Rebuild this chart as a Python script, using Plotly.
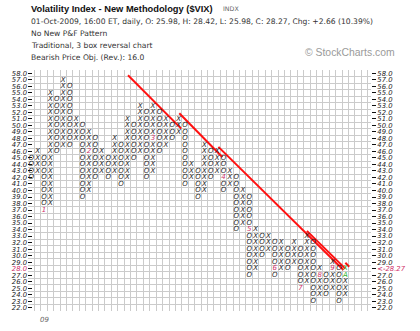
import plotly.graph_objects as go

# ---------------- data ----------------
col_types = ['O', 'X'] * 25
col_high = [45, 46, 45, 55, 54, 57, 56, 51, 50, 49, 48, 46, 45, 48, 47, 51, 50, 53, 52, 53,
            52, 51, 50, 51, 50, 44, 43, 47, 46, 46, 45, 43, 42, 40, 39, 34, 33, 33, 32, 32,
            31, 32, 31, 33, 32, 28, 27, 29, 28, 28]
col_low = [42, 43, 37, 38, 46, 47, 47, 48, 39, 40, 42, 43, 42, 43, 41, 42, 45, 46, 42, 43,
           46, 47, 48, 49, 41, 42, 39, 40, 42, 43, 40, 41, 34, 35, 27, 28, 30, 31, 27, 28,
           28, 29, 25, 26, 23, 24, 24, 25, 23, 24]
month_col = [2, 9, 19, 30, 34, 38, 42, 45, 47, 49]
month_row = [37, 46, 48, 42, 34, 28, 25, 27, 28, 27]
month_lbl = ['1', '2', '3', '4', '5', '6', '7', '8', '9', 'A']
current_col = 49
current_row = 28
price_rows = list(range(22, 59))
last_close = 28.27
year_col = 2
year_lbl = '09'

# bearish resistance lines (column, box) endpoints
line_c_start = [15.1, 23.1, 29.2, 43.0, 49.0]
line_r_start = [57.7, 51.85, 46.7, 33.8, 28.9]
line_c_end = [23.4, 29.8, 48.7, 49.0, 49.6]
line_r_end = [49.5, 45.15, 27.8, 28.0, 28.3]

# ---------------- build cells ----------------
months = {(c, r): (l) for c, r, l in zip(month_col, month_row, month_lbl)}
xs = {'X': ([], []), 'O': ([], [])}
for c, (t, hi, lo) in enumerate(zip(col_types, col_high, col_low)):
    for r in range(lo, hi + 1):
        if (c, r) in months or (c == current_col and r == current_row):
            continue
        xs[t][0].append(c)
        xs[t][1].append(r)

sym_font = dict(family='DejaVu Sans', size=7, color='#1a1a1a', style='italic')
fig = go.Figure()

for i in range(len(line_c_start)):
    fig.add_trace(go.Scatter(x=[line_c_start[i], line_c_end[i]], y=[line_r_start[i], line_r_end[i]],
                             mode='lines', line=dict(color='#ff1010', width=2),
                             hoverinfo='skip', showlegend=False, yaxis='y'))

for t in ['X', 'O']:
    fig.add_trace(go.Scatter(x=xs[t][0], y=xs[t][1], mode='text', text=[t] * len(xs[t][0]),
                             textfont=sym_font, textposition='middle center',
                             hoverinfo='skip', showlegend=False, cliponaxis=False, yaxis='y2'))

m_colors = ['#2bb52b' if l == 'A' else '#d0306a' for l in month_lbl]
fig.add_trace(go.Scatter(x=month_col, y=month_row, mode='text', text=month_lbl,
                         textfont=dict(family='DejaVu Sans', size=7, color=m_colors, style='italic'),
                         textposition='middle center', hoverinfo='skip', showlegend=False,
                         cliponaxis=False, yaxis='y2'))
fig.add_trace(go.Scatter(x=[current_col], y=[current_row], mode='text', text=['X'],
                         textfont=dict(family='DejaVu Sans', size=7, color='#2bb52b', style='italic'),
                         textposition='middle center', hoverinfo='skip', showlegend=False,
                         cliponaxis=False, yaxis='y3'))

left_txt = []
right_txt = []
for r in price_rows:
    if r == round(last_close):
        left_txt.append("<span style='color:#d0306a'>%.1f</span>" % r)
        right_txt.append("<span style='color:#d0306a'>&lt;-%.2f</span>" % last_close)
    else:
        left_txt.append('%.1f' % r)
        right_txt.append('%.1f' % r)

grid_col = '#cbcbcb'
yr = [21.5, 58.5]
lab_font = dict(family='DejaVu Sans', size=6.8, color='#222', style='italic')

W, H = 420, 331
L, R, T, B = 26, 49, 70, 20
pw, ph = W - L - R, H - T - B


def px(x):
    return (x - L) / pw


def py(y):
    return (H - B - y) / ph


fig.update_layout(
    width=W, height=H, margin=dict(l=L, r=R, t=T, b=B),
    paper_bgcolor='white', plot_bgcolor='white', showlegend=False,
    xaxis=dict(range=[-0.5, 53.0], tickmode='linear', tick0=0.5, dtick=1, showgrid=True,
               gridcolor=grid_col, gridwidth=1, showticklabels=False, ticks='',
               zeroline=False, showline=False),
    yaxis=dict(range=yr, tickmode='linear', tick0=21.5, dtick=1, showgrid=True,
               gridcolor=grid_col, gridwidth=1, showticklabels=False, ticks='',
               zeroline=False, showline=False),
    yaxis2=dict(range=yr, overlaying='y', side='left', anchor='x', tickmode='array',
                tickvals=price_rows, ticktext=left_txt, ticks='inside', ticklen=4,
                tickcolor='#111', tickwidth=1, showgrid=False, zeroline=False, showline=False,
                tickfont=lab_font),
    yaxis3=dict(range=yr, overlaying='y', side='right', anchor='x', tickmode='array',
                tickvals=price_rows, ticktext=right_txt, ticks='outside', ticklen=4,
                tickcolor='#111', tickwidth=1, showgrid=False, zeroline=False, showline=False,
                tickfont=lab_font),
)

ann = [
    dict(text='<b>Volatility Index - New Methodology ($VIX)</b>', x=px(27), y=py(8.5),
         font=dict(family='Liberation Sans', size=9.3, color='#111')),
    dict(text='INDX', x=px(220), y=py(8.5), font=dict(family='DejaVu Sans', size=6.3, color='#666')),
    dict(text='01-Oct-2009, 16:00 ET, daily, O: 25.98, H: 28.42, L: 25.98, C: 28.27, Chg: +2.66 (10.39%)',
         x=px(27), y=py(21), font=dict(family='DejaVu Sans', size=7.6, color='#333')),
    dict(text='No New P&amp;F Pattern', x=px(27), y=py(33), font=dict(family='DejaVu Sans', size=7.6, color='#333')),
    dict(text='Traditional, 3 box reversal chart', x=px(27), y=py(46),
         font=dict(family='DejaVu Sans', size=7.6, color='#333')),
    dict(text='Bearish Price Obj. (Rev.): 16.0', x=px(27), y=py(58),
         font=dict(family='DejaVu Sans', size=7.6, color='#333')),
    dict(text='© StockCharts.com', x=px(303), y=py(52.5),
         font=dict(family='Liberation Sans', size=10.4, color='#9a9a9a')),
]
for a in ann:
    fig.add_annotation(xref='paper', yref='paper', xanchor='left', yanchor='middle',
                       showarrow=False, **a)
fig.add_annotation(text=year_lbl, x=year_col, xref='x', y=py(320), yref='paper',
                   xanchor='center', yanchor='middle', showarrow=False,
                   font=dict(family='DejaVu Sans', size=7, color='#666', style='italic'))

fig.write_html('out.html')
